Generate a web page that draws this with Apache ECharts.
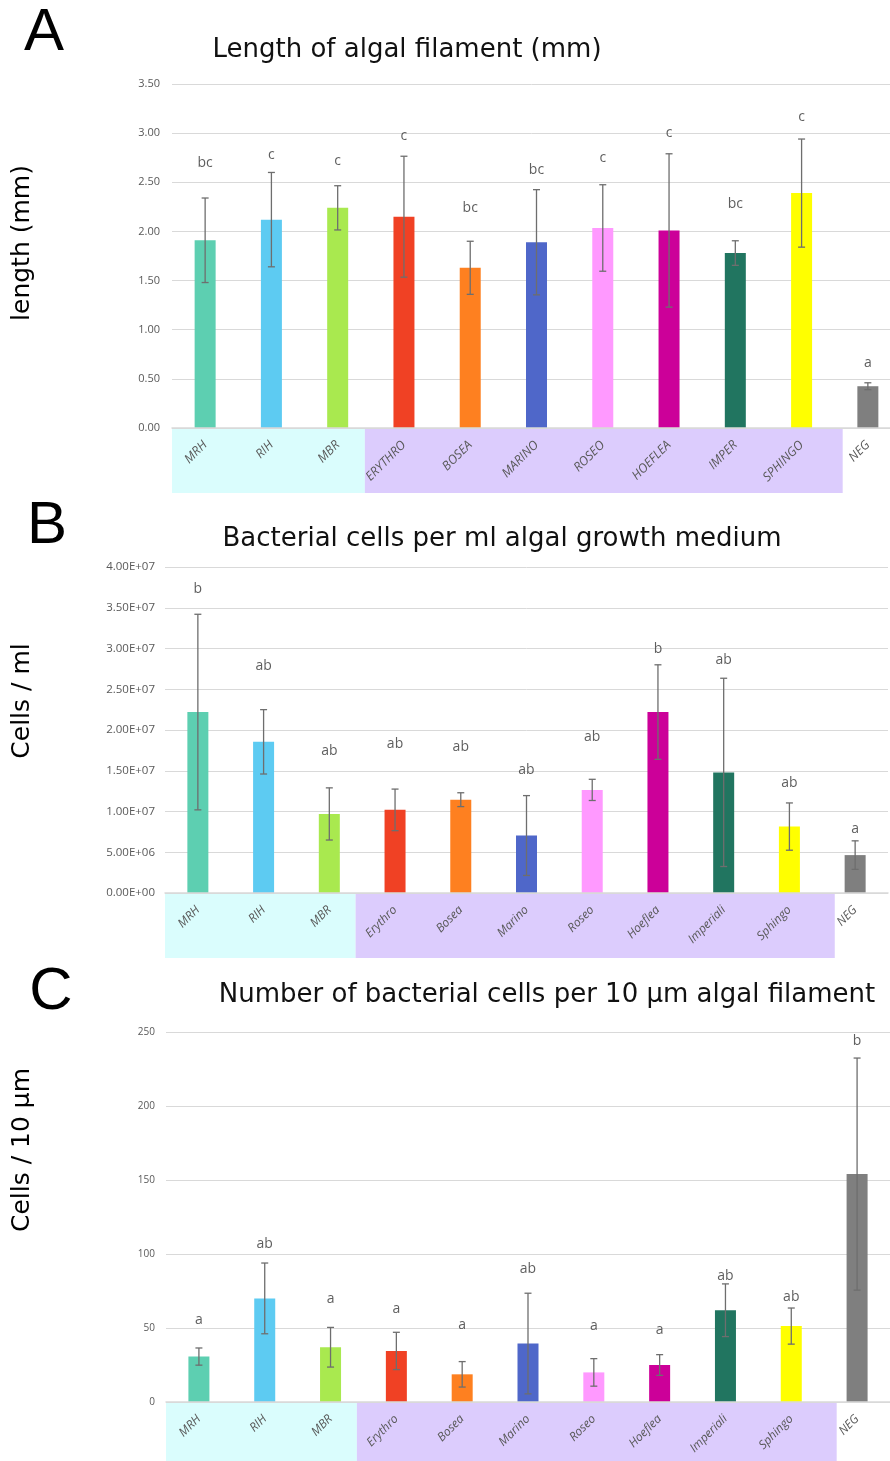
<!DOCTYPE html>
<html><head><meta charset="utf-8">
<script src="https://cdn.jsdelivr.net/npm/echarts@6/dist/echarts.min.js"></script>
<style>html,body{margin:0;padding:0;background:#fff}#c{width:890px;height:1461px}</style>
</head><body><div id="c"></div>
<script>
// ---------- DATA ----------
const catsA = ['MRH','RIH','MBR','ERYTHRO','BOSEA','MARINO','ROSEO','HOEFLEA','IMPER','SPHINGO','NEG'];
const catsBC = ['MRH','RIH','MBR','Erythro','Bosea','Marino','Roseo','Hoeflea','Imperiali','Sphingo','NEG'];
const barColors = ['#5DCFB1','#5DCBF2','#A9E94F','#F04124','#FE8020','#4F67C9','#FF99FF','#CC0099','#217560','#FFFF00','#7F7F7F'];

const lengthMean = [1.91, 2.12, 2.24, 2.15, 1.63, 1.89, 2.035, 2.01, 1.78, 2.39, 0.425];
const lengthErr  = [0.43, 0.48, 0.225, 0.615, 0.27, 0.535, 0.44, 0.78, 0.125, 0.55, 0.035];
const lengthLetters = ['bc','c','c','c','bc','bc','c','c','bc','c','a'];
const lengthLetterPos = [2.70, 2.78, 2.72, 2.97, 2.24, 2.62, 2.75, 3.00, 2.28, 3.16, 0.66];

const mlMean = [2.22e7, 1.855e7, 0.97e7, 1.02e7, 1.145e7, 0.705e7, 1.265e7, 2.22e7, 1.48e7, 0.815e7, 0.465e7];
const mlErr  = [1.2e7, 0.395e7, 0.32e7, 0.255e7, 0.085e7, 0.49e7, 0.13e7, 0.58e7, 1.155e7, 0.29e7, 0.175e7];
const mlLetters = ['b','ab','ab','ab','ab','ab','ab','b','ab','ab','a'];
const mlLetterPos = [3.73e7, 2.79e7, 1.74e7, 1.83e7, 1.79e7, 1.515e7, 1.91e7, 2.99e7, 2.86e7, 1.35e7, 0.786e7];

const umMean = [30.7, 70, 37, 34.5, 18.7, 39.5, 20, 25, 62, 51.3, 154];
const umErr  = [5.8, 23.9, 13.4, 12.6, 8.6, 34, 9.3, 7, 17.8, 12.2, 78.4];
const umLetters = ['a','ab','a','a','a','ab','a','a','ab','ab','b'];
const umLetterPos = [55.7, 107, 69.6, 62.8, 52.3, 89.9, 51.4, 48.9, 85, 70.9, 244];

// group shading behind category labels: [start, end] in category-index units (per panel)
const groupSpansA = [[-0.5, 2.41], [2.41, 9.62]];
const groupSpansBC = [[-0.5, 2.4], [2.4, 9.69]];
const groupColors = ['#DAFDFD', '#DCCCFD'];

const titles = ['Length of algal filament (mm)', 'Bacterial cells per ml algal growth medium', 'Number of bacterial cells per 10 µm algal filament'];
const yNames = ['length (mm)', 'Cells / ml', 'Cells / 10 µm'];
const panelLetters = ['A','B','C'];

// ---------- HELPERS ----------
function sci(v){
  if (v === 0) return '0.00E+00';
  const e = Math.floor(Math.log10(v) + 1e-9);
  const m = v / Math.pow(10, e);
  return m.toFixed(2) + 'E+' + String(e).padStart(2, '0');
}
function errItem(params, api){
  const i = api.value(0), lo = api.value(1), hi = api.value(2);
  const a = api.coord([i, hi]), b = api.coord([i, lo]);
  const cap = 3.5;
  const st = {stroke:'#6E6E6E', lineWidth:1.3};
  return {type:'group', children:[
    {type:'line', shape:{x1:a[0],y1:a[1],x2:b[0],y2:b[1]}, style:st},
    {type:'line', shape:{x1:a[0]-cap,y1:a[1],x2:a[0]+cap,y2:a[1]}, style:st},
    {type:'line', shape:{x1:b[0]-cap,y1:b[1],x2:b[0]+cap,y2:b[1]}, style:st}
  ]};
}
function boxItem(params, api){
  const s = api.value(0), e = api.value(1);
  const bw = api.size([1, 0])[0];
  const p0 = api.coord([0, 0]);
  const x0 = p0[0] + s * bw, x1 = p0[0] + e * bw;
  return {type:'rect', shape:{x:x0, y:p0[1] + 1, width:x1 - x0, height:64}, style:{fill: groupColors[params.dataIndex]}};
}

const grids = [
  {left:172, top:84, width:729, height:344, outerBoundsMode:'none', containLabel:false},
  {left:165, top:567, width:723, height:326, outerBoundsMode:'none', containLabel:false},
  {left:166, top:1032, width:724, height:370, outerBoundsMode:'none', containLabel:false}
];
const cats = [catsA, catsBC, catsBC];
const spans = [groupSpansA, groupSpansBC, groupSpansBC];
const means = [lengthMean, mlMean, umMean];
const errs = [lengthErr, mlErr, umErr];
const letters = [lengthLetters, mlLetters, umLetters];
const letterPos = [lengthLetterPos, mlLetterPos, umLetterPos];
const yCfg = [
  {max:3.5, interval:0.5, fmt:v => v.toFixed(2), fs:11, margin:12},
  {max:4e7, interval:5e6, fmt:sci, fs:11.5, margin:10},
  {max:250, interval:50, fmt:v => String(v), fs:10, margin:11}
];
const xFs = [12.5, 12, 12];

const xAxis = [], yAxis = [], series = [];
for (let g = 0; g < 3; g++){
  xAxis.push({
    type:'category', gridIndex:g, data:cats[g], z:5,
    axisLine:{lineStyle:{color:'#D9D9D9', width:1.5}},
    axisTick:{show:false},
    axisLabel:{interval:0, rotate:45, fontStyle:'italic', color:'#595959', fontSize:xFs[g], fontFamily:'Open Sans', margin:15}
  });
  yAxis.push({
    type:'value', gridIndex:g, min:0, max:yCfg[g].max, interval:yCfg[g].interval,
    axisLine:{show:false}, axisTick:{show:false},
    axisLabel:{formatter:yCfg[g].fmt, color:'#595959', fontSize:yCfg[g].fs, fontFamily:'Open Sans', margin:yCfg[g].margin},
    splitLine:{lineStyle:{color:'#D9D9D9', width:1}}
  });
  series.push({
    type:'custom', xAxisIndex:g, yAxisIndex:g, z:1, clip:false, silent:true,
    renderItem:boxItem, data:spans[g], encode:{x:-1, y:-1}
  });
  series.push({
    type:'bar', xAxisIndex:g, yAxisIndex:g, barWidth:21, z:2,
    data: means[g].map((v, i) => ({value:v, itemStyle:{color:barColors[i]}}))
  });
  series.push({
    type:'custom', xAxisIndex:g, yAxisIndex:g, z:3, renderItem:errItem,
    data: means[g].map((m, i) => [i, m - errs[g][i], m + errs[g][i]]),
    encode:{x:0, y:[1, 2]}
  });
  series.push({
    type:'scatter', xAxisIndex:g, yAxisIndex:g, z:4, symbolSize:1, itemStyle:{color:'rgba(0,0,0,0)'},
    data: letterPos[g].map((v, i) => [i, v]),
    label:{show:true, position:'inside', formatter:p => letters[g][p.dataIndex], color:'#363636', fontSize:14, fontFamily:'Open Sans'}
  });
}

const titleCenters = [[407, 50], [502, 539], [547, 995]];
const yNameCenters = [[22, 243], [22, 701], [22, 1150]];
const letterCenters = [[44, 33], [47, 526], [51, 992]];
const graphic = [];
for (let g = 0; g < 3; g++){
  graphic.push({type:'text', x:titleCenters[g][0], y:titleCenters[g][1],
    style:{text:titles[g], font:'26px "DejaVu Sans"', fill:'#111', textAlign:'center', textVerticalAlign:'middle'}});
  graphic.push({type:'text', x:yNameCenters[g][0], y:yNameCenters[g][1], rotation:Math.PI/2,
    style:{text:yNames[g], font:'25px "DejaVu Sans"', fill:'#000', textAlign:'center', textVerticalAlign:'middle'}});
  graphic.push({type:'text', x:letterCenters[g][0], y:letterCenters[g][1],
    style:{text:panelLetters[g], font:'60px "Liberation Sans"', fill:'#000', textAlign:'center', textVerticalAlign:'middle'}});
}

const chart = echarts.init(document.getElementById('c'), null, {renderer:'canvas'});
chart.setOption({
  animation:false,
  backgroundColor:'#fff',
  grid:grids, xAxis, yAxis, series, graphic
});
</script></body></html>
